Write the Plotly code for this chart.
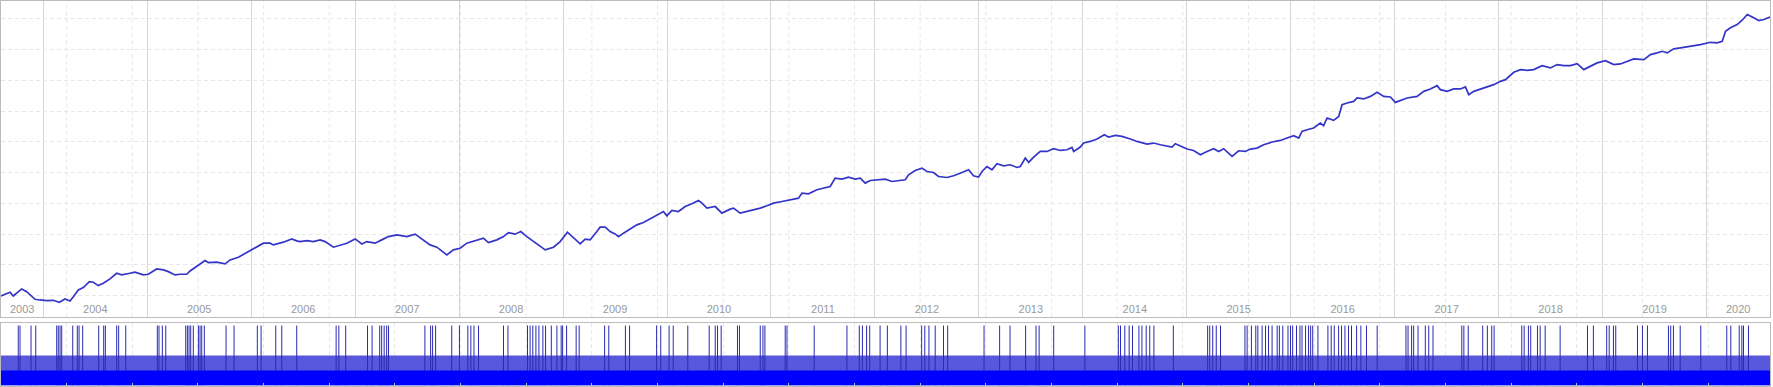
import plotly.graph_objects as go

# ---------------- data ----------------
# equity curve: time in decimal years, value in account currency
equity_time = [
    2003.593, 2003.648, 2003.680, 2003.711, 2003.759, 2003.792, 2003.840, 2003.888, 2003.920, 2003.968,
    2004.033, 2004.096, 2004.154, 2004.209, 2004.257, 2004.289, 2004.337, 2004.385, 2004.443, 2004.481,
    2004.529, 2004.577, 2004.642, 2004.706, 2004.754, 2004.834, 2004.882, 2004.962, 2005.010, 2005.091,
    2005.155, 2005.203, 2005.267, 2005.315, 2005.380, 2005.412, 2005.492, 2005.556, 2005.588, 2005.669,
    2005.749, 2005.797, 2005.877, 2005.957, 2006.037, 2006.117, 2006.182, 2006.213, 2006.310, 2006.390,
    2006.438, 2006.470,
    2006.535, 2006.598, 2006.663, 2006.711, 2006.791, 2006.855, 2006.920, 2007.000, 2007.064, 2007.112,
    2007.192, 2007.256, 2007.320, 2007.401, 2007.497, 2007.577, 2007.657, 2007.721, 2007.786, 2007.882,
    2007.945, 2008.010, 2008.074, 2008.171, 2008.234, 2008.282, 2008.363, 2008.427, 2008.475, 2008.539,
    2008.594, 2008.652, 2008.715, 2008.780, 2008.828, 2008.908, 2008.972, 2009.042, 2009.100, 2009.165,
    2009.213, 2009.261, 2009.325, 2009.357,
    2009.405, 2009.453, 2009.501, 2009.533, 2009.581, 2009.646, 2009.710, 2009.774, 2009.838, 2009.918,
    2009.966, 2009.999, 2010.047, 2010.110, 2010.175, 2010.239, 2010.303, 2010.336, 2010.384, 2010.464,
    2010.528, 2010.608, 2010.640, 2010.704, 2010.769, 2010.832, 2010.897, 2010.961, 2011.025, 2011.106,
    2011.185, 2011.265, 2011.298, 2011.361, 2011.442, 2011.506, 2011.570, 2011.618, 2011.683, 2011.746,
    2011.811, 2011.859, 2011.907, 2011.955, 2012.020, 2012.100, 2012.164, 2012.228,
    2012.292, 2012.324, 2012.388, 2012.453, 2012.501, 2012.564, 2012.612, 2012.693, 2012.757, 2012.838,
    2012.901, 2012.949, 2012.997, 2013.030, 2013.078, 2013.126, 2013.174, 2013.238, 2013.302, 2013.367,
    2013.399, 2013.447, 2013.479, 2013.527, 2013.591, 2013.656, 2013.719, 2013.784, 2013.848, 2013.896,
    2013.912, 2013.976, 2014.008, 2014.072, 2014.137, 2014.207, 2014.248, 2014.313, 2014.377, 2014.457,
    2014.522, 2014.618, 2014.681, 2014.746, 2014.810, 2014.858, 2014.890, 2014.955, 2015.003, 2015.066,
    2015.131,
    2015.195, 2015.259, 2015.307, 2015.355, 2015.436, 2015.499, 2015.564, 2015.612, 2015.676, 2015.740,
    2015.821, 2015.901, 2015.965, 2016.029, 2016.077, 2016.109, 2016.157, 2016.221, 2016.285, 2016.317,
    2016.350, 2016.413, 2016.462, 2016.494, 2016.542, 2016.606, 2016.639, 2016.702, 2016.767, 2016.831,
    2016.895, 2016.959, 2017.007, 2017.055, 2017.120, 2017.216, 2017.280, 2017.344, 2017.408, 2017.440,
    2017.505, 2017.568, 2017.633, 2017.681, 2017.713, 2017.761, 2017.825, 2017.890, 2017.953, 2018.018,
    2018.066, 2018.146, 2018.210, 2018.275, 2018.338, 2018.419, 2018.499, 2018.563, 2018.627, 2018.691,
    2018.756, 2018.819, 2018.884, 2018.948, 2019.028, 2019.108, 2019.172, 2019.237, 2019.300, 2019.397,
    2019.461, 2019.525, 2019.574, 2019.622, 2019.685, 2019.750, 2019.846, 2019.942, 2020.038, 2020.103,
    2020.151, 2020.183, 2020.231, 2020.295, 2020.343, 2020.392, 2020.455, 2020.503, 2020.551, 2020.611,
]
equity_value = [
    9900, 10780, 11110, 9900, 11300, 12180, 11300, 9900, 8830, 8600,
    8370, 8500, 7850, 8930, 8270, 9670, 11860, 12610, 14560, 14360,
    13260, 14040, 15440, 17290, 16740, 17290, 17620, 16740, 16970, 18690,
    18370, 17810, 16740, 16970, 16970, 18040, 20000, 21400, 20750, 20880,
    20320, 21620, 22500, 24000, 25760, 27060, 27060, 26510, 27390, 28460,
    27810, 27580,
    27910, 27580, 28140, 27580, 25760, 26510, 27060, 28460, 26830, 27580,
    27060, 28140, 29210, 29760, 29210, 29990, 28140, 26510, 25760, 23250,
    24880, 25430, 27060, 28140, 28690, 27260, 28140, 29210, 30510, 29990,
    30840, 29210, 27580, 25950, 24880, 25760, 27580, 30640, 28690, 26830,
    28360, 28140, 30840, 32270,
    32270, 30840, 30090, 29210, 30320, 31620, 33020, 33770, 34880, 36280,
    37350, 35950, 37680, 37350, 38980, 39860, 40930, 40090, 38460, 38980,
    36830, 38130, 38460, 36830, 37350, 37900, 38460, 39210, 40090, 40610,
    41160, 41710, 43340, 43110, 44420, 44970, 45490, 48230, 47900, 48550,
    47900, 48230, 46600, 47440, 47670, 47900, 47120, 47440,
    47670, 49300, 50700, 51480, 50370, 50050, 48750, 48420, 48970, 50050,
    50930, 48970, 48550, 50370, 52000, 50930, 52880, 52230, 52560, 51680,
    52000, 54740, 53310, 55060, 56890, 56890, 57770, 57210, 57440, 58190,
    56890, 58320, 59620, 60140, 60920, 62320, 61580, 62100, 61770, 60920,
    60140, 59300, 59620, 59070, 58740, 58320, 59390, 58510, 57670, 57210,
    55810,
    56890, 57770, 56890, 57770, 55260, 57110, 56890, 57670, 57990, 59070,
    59950, 60470, 61250, 62000, 61250, 63400, 63950, 64510, 66130, 65250,
    67760, 66980, 68280, 72090, 72650, 73170, 74270, 73950, 74790, 76100,
    74790, 74600, 72840, 73490, 74270, 74790, 76420, 77200, 78280, 76980,
    76420, 77200, 77200, 77860, 75350, 76420, 77200, 78050, 78600, 79680,
    80230, 82610, 83490, 83260, 83490, 84790, 84040, 85120, 84790, 84790,
    85440, 83490, 84560, 85670, 86420, 85120, 85340, 86190, 86970, 86740,
    88370, 88930, 89450, 88930, 90230, 90550, 91070, 91630, 92380, 92180,
    92700, 95960, 97070, 98140, 99540, 101400, 100320, 99440, 99770, 100580,
]

# lot sizes of trades (lower panel)
base_lot = 1
medium_lot = 2
large_lot = 4
# times of the trades opened with the large lot
large_lot_time = [
    2003.759, 2003.776, 2003.882, 2003.927, 2004.129, 2004.144, 2004.161, 2004.177, 2004.283, 2004.327,
    2004.344, 2004.379, 2004.533, 2004.581, 2004.597, 2004.706, 2004.725, 2004.793, 2005.097, 2005.113,
    2005.145, 2005.178, 2005.370, 2005.386, 2005.402, 2005.418, 2005.443, 2005.492, 2005.508, 2005.524,
    2005.549, 2005.758, 2005.835, 2006.059, 2006.095, 2006.236, 2006.294, 2006.438, 2006.817, 2006.843,
    2006.909, 2007.119, 2007.163, 2007.236, 2007.255, 2007.279, 2007.303, 2007.321, 2007.671, 2007.726,
    2007.745, 2007.774, 2007.929, 2008.003, 2008.084, 2008.113, 2008.143, 2008.187, 2008.427, 2008.470,
    2008.658, 2008.683, 2008.709, 2008.739, 2008.768, 2008.806, 2008.832, 2008.887, 2008.941, 2008.982,
    2008.996, 2009.034, 2009.126, 2009.155, 2009.400, 2009.440, 2009.600, 2009.640, 2009.900, 2009.940,
    2010.020, 2010.060, 2010.200, 2010.406, 2010.464, 2010.486, 2010.521, 2010.678, 2010.697, 2010.897,
    2010.923, 2010.942, 2011.137, 2011.154, 2011.416, 2011.731, 2011.850, 2011.880, 2011.920, 2011.950,
    2012.050, 2012.120, 2012.250, 2012.300, 2012.450, 2012.480, 2012.520, 2012.580, 2012.660, 2012.700,
    2013.050, 2013.200, 2013.300, 2013.450, 2013.550, 2013.580, 2013.720, 2014.020,
    2014.342, 2014.363, 2014.404, 2014.446, 2014.478, 2014.540, 2014.569, 2014.610, 2014.644, 2014.684,
    2014.871, 2015.201, 2015.221, 2015.250, 2015.284, 2015.325, 2015.560, 2015.581, 2015.622, 2015.664,
    2015.684, 2015.725, 2015.758, 2015.787, 2015.821, 2015.870, 2015.891, 2015.924, 2015.974, 2015.998,
    2016.019, 2016.056, 2016.089, 2016.109, 2016.143, 2016.172, 2016.192, 2016.212, 2016.262, 2016.358,
    2016.390, 2016.419, 2016.461, 2016.489, 2016.522, 2016.556, 2016.585, 2016.634, 2016.675, 2016.729,
    2016.832, 2017.109, 2017.129, 2017.163, 2017.183, 2017.225, 2017.295, 2017.328, 2017.369, 2017.646,
    2017.666, 2017.708, 2017.847, 2017.892, 2017.934, 2017.957, 2018.223, 2018.246, 2018.287, 2018.309,
    2018.374, 2018.400, 2018.448, 2018.592, 2018.855, 2018.912, 2019.040, 2019.064, 2019.105, 2019.127,
    2019.336, 2019.384, 2019.432, 2019.634, 2019.656, 2019.682, 2019.747, 2019.945, 2020.195, 2020.234,
    2020.315, 2020.340, 2020.356, 2020.404,
]

year_labels = list(range(2003, 2021))

# ---------------- styling ----------------
LINE_BLUE = "#3434c8"
BAR_BLUE = "#2a2ab2"
BORDER = "#bcbcbc"
SOLID_GRID = "#d6d6d6"
DASH_GRID = "#e8e8e8"
DASH = "4px,3px"
GRID_STEP = 0.6316  # spacing of the dashed vertical grid (years)

t0, t1 = equity_time[0], equity_time[-1]
label_pos = [(max(y, t0) + min(y + 1, t1)) / 2 for y in year_labels]
dash_grid_x = [t0 + k * GRID_STEP for k in range(1, int((t1 - t0) / GRID_STEP) + 1)]

xdom = [1 / 1773, 1770 / 1773]
top_dom = [(387 - 317) / 387, (387 - 0.5) / 387]
bot_dom = [(387 - 385.5) / 387, (387 - 322.7) / 387]

fig = go.Figure()

fig.add_trace(go.Scatter(
    x=equity_time, y=equity_value, mode="lines",
    line=dict(color=LINE_BLUE, width=1.7),
    xaxis="x", yaxis="y", hoverinfo="skip",
))

# medium-lot layer
fig.add_trace(go.Scatter(
    x=[t0, t1], y=[medium_lot, medium_lot], mode="lines", fill="tozeroy",
    line=dict(width=0, color="rgba(0,0,0,0)"),
    fillcolor="#5858dc",
    xaxis="x2", yaxis="y2", hoverinfo="skip",
))

# large-lot trades as thin bars
bx, by = [], []
for t in large_lot_time:
    bx += [t, t, None]
    by += [0, large_lot, None]
fig.add_trace(go.Scatter(
    x=bx, y=by, mode="lines", line=dict(color=BAR_BLUE, width=1),
    xaxis="x2", yaxis="y2", hoverinfo="skip",
))

# base-lot layer (every trade)
fig.add_trace(go.Scatter(
    x=[t0, t1], y=[base_lot, base_lot], mode="lines", fill="tozeroy",
    line=dict(width=0, color="rgba(0,0,0,0)"), fillcolor="#0000ff",
    xaxis="x2", yaxis="y2", hoverinfo="skip",
))

# dashed vertical grid of the upper panel
for gx in dash_grid_x:
    fig.add_shape(type="line", xref="x", yref="y domain", x0=gx, x1=gx, y0=0, y1=1,
                  line=dict(color=DASH_GRID, width=1, dash=DASH), layer="below")

common_x = dict(range=[t0, t1], zeroline=False, showline=True, mirror=True,
                linecolor=BORDER, linewidth=1, domain=xdom)

fig.update_layout(
    width=1773, height=387,
    margin=dict(l=0, r=0, t=0, b=0),
    paper_bgcolor="white", plot_bgcolor="white",
    showlegend=False,
    font=dict(family="Liberation Sans", size=10, color="#9a9a9a"),
    xaxis=dict(
        **common_x, anchor="y",
        tickmode="array", tickvals=label_pos, ticktext=[str(y) for y in year_labels],
        ticklabelposition="inside", ticks="", showgrid=False, ticklabelstandoff=1,
        tickfont=dict(family="Liberation Sans", size=11, color="#9a9a9a"),
        minor=dict(tickmode="array", tickvals=year_labels[1:], showgrid=True,
                   gridcolor=SOLID_GRID, gridwidth=1, griddash="solid", ticks=""),
    ),
    yaxis=dict(
        domain=top_dom, anchor="x", range=[3064, 105962],
        tickmode="linear", tick0=0, dtick=10000,
        showgrid=True, gridcolor=DASH_GRID, griddash=DASH,
        showticklabels=False, ticks="", zeroline=False,
        showline=True, mirror=True, linecolor=BORDER, linewidth=1,
    ),
    xaxis2=dict(
        **common_x, anchor="y2",
        tickmode="linear", tick0=t0, dtick=GRID_STEP,
        showgrid=True, gridcolor=DASH_GRID, griddash=DASH,
        showticklabels=False, ticks="inside", ticklen=3, tickcolor=BORDER,
    ),
    yaxis2=dict(
        domain=bot_dom, anchor="x2", range=[0, 4.19],
        showgrid=False, showticklabels=False, ticks="", zeroline=False,
        showline=True, mirror=True, linecolor=BORDER, linewidth=1,
    ),
)

fig.write_html("out.html", config={"displayModeBar": False},
               post_script="document.body.style.margin='0px';")
